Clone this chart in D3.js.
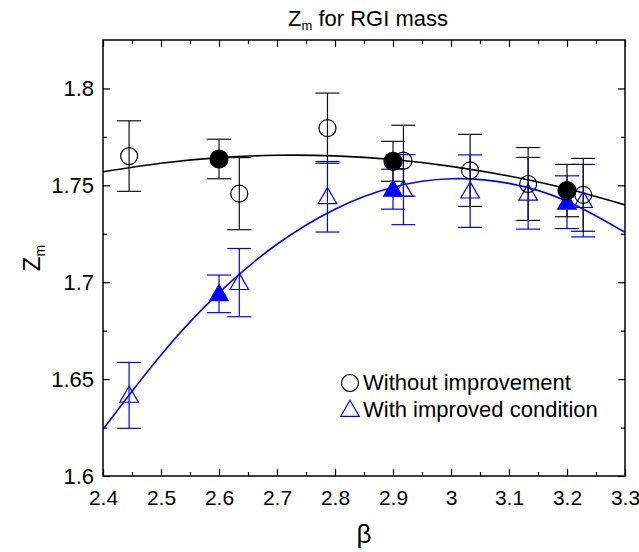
<!DOCTYPE html>
<html>
<head>
<meta charset="utf-8">
<script src="https://cdn.jsdelivr.net/npm/d3@7"></script>
<style>
  body { margin: 0; background: #fff; }
  text { font-family: "Liberation Sans", Arial, sans-serif; }
</style>
</head>
<body>
<script>
// beta values and Z_m, with symmetric errors
var betaOpen   = [2.445, 2.635, 2.787, 2.918, 3.033, 3.133, 3.228];
var zOpen      = [1.7651, 1.7457, 1.7795, 1.7627, 1.7577, 1.7507, 1.7451];
var errOpen    = [0.0182, 0.0186, 0.0181, 0.0183, 0.0186, 0.0188, 0.0188];

var betaFilled = [2.6, 2.9, 3.2];
var zFilled    = [1.7636, 1.7624, 1.7473];
var errFilled  = [0.0102, 0.0103, 0.0135];

var zOpenImp    = [1.6416, 1.6998, 1.7441, 1.7478, 1.7470, 1.7459, 1.7421];
var errOpenImp  = [0.0170, 0.0176, 0.0182, 0.0181, 0.0187, 0.0185, 0.0187];
var zFilledImp  = [1.6940, 1.7480, 1.7413];
var errFilledImp = [0.0097, 0.0103, 0.0136];

// fitted curves
var curveBeta  = [2.4, 2.5, 2.6, 2.7, 2.8, 2.9, 3.0, 3.1, 3.2, 3.3];
var curveBlack = [1.7570, 1.7614, 1.7643, 1.7655, 1.7652, 1.7633, 1.7598, 1.7548, 1.7482, 1.7399];
var curveBlue  = [1.6241, 1.6625, 1.6946, 1.7196, 1.7377, 1.7490, 1.7534, 1.7510, 1.7418, 1.7257];

var xMajor = [2.4, 2.5, 2.6, 2.7, 2.8, 2.9, 3.0, 3.1, 3.2, 3.3];
var xMinor = [2.45, 2.55, 2.65, 2.75, 2.85, 2.95, 3.05, 3.15, 3.25];
var yMajor = [1.6, 1.65, 1.7, 1.75, 1.8];
var yMinor = [1.625, 1.675, 1.725, 1.775];

var BLUE = "#0000ff";
var pL = 103, pR = 625, pT = 40, pB = 476;

var svg = d3.select("body").append("svg")
            .attr("width", 639)
            .attr("height", 552);

var x = d3.scaleLinear().domain([2.4, 3.3]).range([pL, pR]);
var y = d3.scaleLinear().domain([1.6, 1.825]).range([pB, pT]);

var fmt = function(d) { return String(+d.toFixed(2)); };

// axes, ticks pointing inward
function axis(gen, vals, size, labels, tx, ty) {
  var horiz = (gen === d3.axisBottom || gen === d3.axisTop);
  var a = gen(horiz ? x : y)
            .tickValues(vals).tickSizeInner(size).tickSizeOuter(0);
  if (labels) a.tickFormat(fmt); else a.tickFormat("");
  var g = svg.append("g").attr("transform", "translate(" + tx + "," + ty + ")").call(a);
  g.select(".domain").remove();
  g.selectAll("line").attr("stroke", "#000").attr("stroke-width", 1.2);
  return g;
}

var gx = axis(d3.axisBottom, xMajor, -7, true, 0, pB);
gx.selectAll("text").attr("font-size", 21).attr("fill", "#000").attr("y", 14)
  .attr("font-family", "Liberation Sans, Arial, sans-serif");
axis(d3.axisBottom, xMinor, -4, false, 0, pB);
axis(d3.axisTop, xMajor, -7, false, 0, pT);
axis(d3.axisTop, xMinor, -4, false, 0, pT);

var gy = axis(d3.axisLeft, yMajor, -7, true, pL, 0);
gy.selectAll("text").attr("font-size", 22).attr("fill", "#000").attr("x", -9)
  .attr("font-family", "Liberation Sans, Arial, sans-serif");
axis(d3.axisLeft, yMinor, -4, false, pL, 0);
axis(d3.axisRight, yMajor, -7, false, pR, 0);
axis(d3.axisRight, yMinor, -4, false, pR, 0);

svg.append("rect")
   .attr("x", pL).attr("y", pT)
   .attr("width", pR - pL).attr("height", pB - pT)
   .attr("fill", "none").attr("stroke", "#000").attr("stroke-width", 1.5);

svg.append("clipPath").attr("id", "clip")
   .append("rect").attr("x", pL).attr("y", pT)
   .attr("width", pR - pL).attr("height", pB - pT);

var line = d3.line()
             .x(function(d) { return x(d[0]); })
             .y(function(d) { return y(d[1]); })
             .curve(d3.curveNatural);

svg.append("path")
   .datum(d3.zip(curveBeta, curveBlack))
   .attr("d", line).attr("fill", "none")
   .attr("stroke", "#000").attr("stroke-width", 1.6)
   .attr("clip-path", "url(#clip)");

svg.append("path")
   .datum(d3.zip(curveBeta, curveBlue))
   .attr("d", line).attr("fill", "none")
   .attr("stroke", BLUE).attr("stroke-width", 1.6)
   .attr("clip-path", "url(#clip)");

// error bars
function errorBars(xs, ys, es, color) {
  var data = d3.zip(xs, ys, es);
  var g = svg.append("g").attr("stroke", color).attr("stroke-width", 1.2);
  g.selectAll(".v").data(data).enter().append("line")
   .attr("x1", function(d) { return x(d[0]); })
   .attr("x2", function(d) { return x(d[0]); })
   .attr("y1", function(d) { return y(d[1] + d[2]); })
   .attr("y2", function(d) { return y(d[1] - d[2]); });
  [1, -1].forEach(function(s) {
    g.selectAll(".c" + s).data(data).enter().append("line")
     .attr("x1", function(d) { return x(d[0]) - 12; })
     .attr("x2", function(d) { return x(d[0]) + 12; })
     .attr("y1", function(d) { return y(d[1] + s * d[2]); })
     .attr("y2", function(d) { return y(d[1] + s * d[2]); });
  });
}

errorBars(betaOpen, zOpenImp, errOpenImp, BLUE);
errorBars(betaFilled, zFilledImp, errFilledImp, BLUE);
errorBars(betaOpen, zOpen, errOpen, "#111");
errorBars(betaFilled, zFilled, errFilled, "#111");

var tri = d3.symbol().type(d3.symbolTriangle).size(150);

function triangles(xs, ys, filled) {
  svg.append("g").selectAll("path").data(d3.zip(xs, ys)).enter().append("path")
     .attr("d", tri)
     .attr("transform", function(d) { return "translate(" + x(d[0]) + "," + (y(d[1]) + 1.5) + ")"; })
     .attr("fill", filled ? BLUE : "none")
     .attr("stroke", BLUE).attr("stroke-width", 1.2);
}

function circles(xs, ys, filled) {
  svg.append("g").selectAll("circle").data(d3.zip(xs, ys)).enter().append("circle")
     .attr("cx", function(d) { return x(d[0]); })
     .attr("cy", function(d) { return y(d[1]); })
     .attr("r", filled ? 9 : 8.5)
     .attr("fill", filled ? "#000" : "none")
     .attr("stroke", "#000").attr("stroke-width", 1.2);
}

triangles(betaOpen, zOpenImp, false);
triangles(betaFilled, zFilledImp, true);
circles(betaOpen, zOpen, false);
circles(betaFilled, zFilled, true);

// legend
svg.append("circle").attr("cx", 350).attr("cy", 383).attr("r", 8.5)
   .attr("fill", "none").attr("stroke", "#000").attr("stroke-width", 1.2);
svg.append("text").attr("x", 363).attr("y", 390).attr("font-size", 22)
   .text("Without improvement");
svg.append("path").attr("d", tri).attr("transform", "translate(350,411)")
   .attr("fill", "none").attr("stroke", BLUE).attr("stroke-width", 1.2);
svg.append("text").attr("x", 363).attr("y", 417).attr("font-size", 22)
   .text("With improved condition");

// title and axis labels
var title = svg.append("text").attr("x", 368).attr("y", 26)
               .attr("text-anchor", "middle").attr("font-size", 22);
title.append("tspan").text("Z");
title.append("tspan").attr("font-size", 13).attr("dy", 4).text("m");
title.append("tspan").attr("dy", -4).text(" for RGI mass");

var ylab = svg.append("text")
              .attr("transform", "translate(40," + ((pT + pB) / 2) + ") rotate(-90)")
              .attr("text-anchor", "middle").attr("font-size", 24);
ylab.append("tspan").text("Z");
ylab.append("tspan").attr("font-size", 14).attr("dy", 5).text("m");

svg.append("text").attr("x", (pL + pR) / 2).attr("y", 543)
   .attr("text-anchor", "middle").attr("font-size", 26)
   .attr("font-family", "DejaVu Serif, serif")
   .text("β");
</script>
</body>
</html>
